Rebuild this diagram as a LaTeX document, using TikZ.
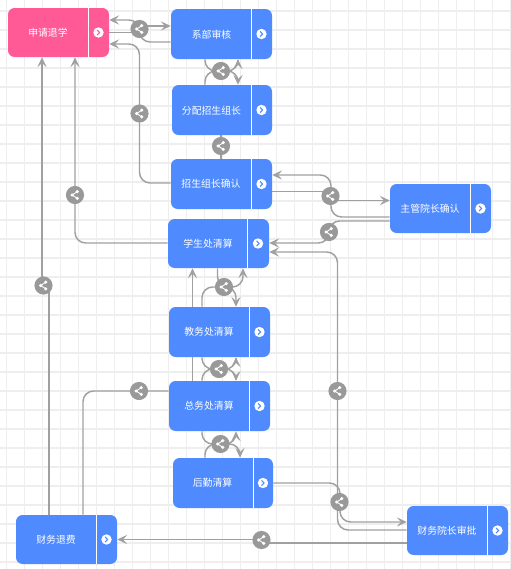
\documentclass[tikz,border=0pt]{standalone}
\usepackage{fontspec}
\setmainfont{Noto Sans CJK SC}
\usetikzlibrary{arrows.meta,calc}
\pgfdeclarelayer{under}
\pgfsetlayers{under,main}
\definecolor{gridc}{HTML}{EEEEEE}
\definecolor{boxblue}{HTML}{4F8BFF}
\definecolor{boxpink}{HTML}{FF5A96}
\definecolor{edgec}{HTML}{A0A0A0}
\definecolor{badgec}{HTML}{999999}
\tikzset{
  x=0.75pt,y=-0.75pt,
  flowbox/.style={fill=#1,rounded corners=4.9pt,inner sep=0pt},
  lbl/.style={text=white,font=\fontsize{7.4pt}{9pt}\selectfont},
  edge/.style={draw=edgec,line width=1.1pt,rounded corners=8pt},
  arr/.style={edge,-{Stealth[length=7.5pt,width=7pt,inset=3.2pt]}},
  badge/.style={circle,fill=badgec,minimum size=13.6pt,inner sep=0pt,
    path picture={
      \fill[white] ($(path picture bounding box.center)+(-2.1pt,0)$) circle (1.3pt)
        ($(path picture bounding box.center)+(1.7pt,-2.5pt)$) circle (1.3pt)
        ($(path picture bounding box.center)+(1.7pt,2.5pt)$) circle (1.3pt);
      \draw[white,line width=0.7pt] ($(path picture bounding box.center)+(1.7pt,-2.5pt)$) -- ($(path picture bounding box.center)+(-2.1pt,0)$) -- ($(path picture bounding box.center)+(1.7pt,2.5pt)$);
    }},
}
\newcommand{\flowbox}[7]{%
  \node[flowbox=#2,minimum width={(#5-#3)*0.75pt},minimum height={(#6-#4)*0.75pt}] (#1) at ({(#3+#5)/2},{(#4+#6)/2}) {};
  \draw[white,line width=0.75pt] (#7,#4) -- (#7,#6);
  \node[circle,fill=white,minimum size=7.8pt,inner sep=0pt] (#1i) at ({(#7+#5)/2},{(#4+#6)/2}) {};
  \draw[#2,line width=0.8pt,line cap=round,line join=round] ($(#1i)+(-1pt,-1.8pt)$) -- ($(#1i)+(0.9pt,0)$) -- ($(#1i)+(-1pt,1.8pt)$);
}
\begin{document}
\begin{tikzpicture}
\useasboundingbox (0,0) rectangle (511,569);
% boxes
\flowbox{sq}{boxpink}{8}{8}{109}{57}{88}
\flowbox{xb}{boxblue}{171}{9}{272}{59}{251}
\flowbox{fp}{boxblue}{172}{85}{272}{135}{251}
\flowbox{zs}{boxblue}{171}{159}{272}{209}{251}
\flowbox{zg}{boxblue}{390}{184}{491}{233}{470}
\flowbox{xs}{boxblue}{168}{219}{269}{268}{247}
\flowbox{jw}{boxblue}{169}{307}{270}{357}{249}
\flowbox{zw}{boxblue}{169}{381}{270}{431}{249}
\flowbox{hq}{boxblue}{173}{458}{273}{508}{253}
\flowbox{cy}{boxblue}{407}{506}{508}{555}{487}
\flowbox{cf}{boxblue}{16}{515}{117}{564}{96}

% labels
\node[lbl] (tsq) at (48,32.5) {申请退学};
\node[lbl] (txb) at (211.5,34.5) {系部审核};
\node[lbl] (tfp) at (211.5,110.5) {分配招生组长};
\node[lbl] (tzs) at (211,184) {招生组长确认};
\node[lbl] (tzg) at (430,208.5) {主管院长确认};
\node[lbl] (txs) at (208,244) {学生处清算};
\node[lbl] (tjw) at (209,332) {教务处清算};
\node[lbl] (tzw) at (209,406) {总务处清算};
\node[lbl] (thq) at (212.5,483) {后勤清算};
\node[lbl] (tcy) at (447,531) {财务院长审批};
\node[lbl] (tcf) at (56,539.5) {财务退费};

% badges
\node[badge] (b1) at (139.5,29) {};
\node[badge] (b2) at (139.5,113.5) {};
\node[badge] (b3) at (221,71) {};
\node[badge] (b4) at (221,146) {};
\node[badge] (b5) at (330.5,196) {};
\node[badge] (b6) at (329,232) {};
\node[badge] (b7) at (75,195) {};
\node[badge] (b8) at (43.5,285.5) {};
\node[badge] (b9) at (224,287) {};
\node[badge] (b10) at (219,369) {};
\node[badge] (b11) at (139,391) {};
\node[badge] (b12) at (337.5,391) {};
\node[badge] (b13) at (220.5,444) {};
\node[badge] (b14) at (339.5,502) {};
\node[badge] (b15) at (261.5,540) {};

\begin{pgfonlayer}{under}
\fill[white] (0,0) rectangle (511,569);
\foreach \i in {0,...,28} \draw[gridc,line width=1pt] ({6.7+18*\i},0) -- ({6.7+18*\i},569);
\foreach \i in {0,...,29} \draw[gridc,line width=1pt] (0,{11+19*\i}) -- (511,{11+19*\i});

% connectors
\draw[arr] (xb.west|-0,42) -- (139.5,42) -- (139.5,20) -- (sq.east|-0,20);
\draw[edge] (sq.east|-0,32.5) -- (b1.center|-0,32.5);
\draw[arr] (b1.center|-0,26) -- (xb.west|-0,26);
\draw[arr] (zs.west|-0,183) -- (139.5,183) -- (139.5,44) -- (sq.east|-0,44);

\draw[arr] (xb.south-|205,0) -- (205,71) -- (238,71) -- (fp.north-|238,0);
\draw[arr] (fp.north-|205,0) -- (205,71) -- (238,71) -- (xb.south-|238,0);
\draw[edge] (fp.south-|221,0) -- (zs.north-|221,0);

\draw[edge] (zs.east|-0,191.5) -- (b5.center|-0,191.5);
\draw[arr] (b5.center|-0,200.5) -- (zg.west|-0,200.5);
\draw[arr] (zg.west|-0,217) -- (331,217) -- (331,175) -- (zs.east|-0,175);
\draw[arr] (zg.west|-0,221) -- (329,221) -- (329,243) -- (xs.east|-0,243);
\draw[arr] (cy.west|-0,530) -- (337.5,530) -- (337.5,252) -- (xs.east|-0,252);
\draw[arr] (hq.east|-0,483) -- (340,483) -- (340,522) -- (cy.west|-0,522);
\draw[edge] (cy.west|-0,543) -- (b15.center|-0,543);
\draw[arr] (b15.center|-0,539.5) -- (cf.east|-0,539.5);

\draw[arr] (xs.west|-0,243) -- (75,243) -- (sq.south-|75,0);
\draw[edge,rounded corners=0pt] (cf.north-|49,0) -- (49,285.5) -- (b8.center);
\draw[arr,rounded corners=0pt] (b8.center-|42,0) -- (sq.south-|42,0);
\draw[edge] (zw.west|-0,391) -- (83,391) -- (cf.north-|83,0);

\draw[arr] (zw.north-|192.5,0) -- (xs.south-|192.5,0);
\draw[arr] (xs.south-|217.5,0) -- (217.5,287) -- (236,287) -- (jw.north-|236,0);
\draw[arr] (jw.north-|202,0) -- (202,287) -- (243,287) -- (xs.south-|243,0);

\draw[arr] (jw.south-|202,0) -- (202,369) -- (236,369) -- (zw.north-|236,0);
\draw[arr] (zw.north-|202,0) -- (202,369) -- (236,369) -- (jw.south-|236,0);
\draw[arr] (zw.south-|202,0) -- (202,444) -- (240,444) -- (hq.north-|240,0);
\draw[arr] (hq.north-|205,0) -- (205,444) -- (236,444) -- (zw.south-|236,0);
\end{pgfonlayer}
\end{tikzpicture}
\end{document}
